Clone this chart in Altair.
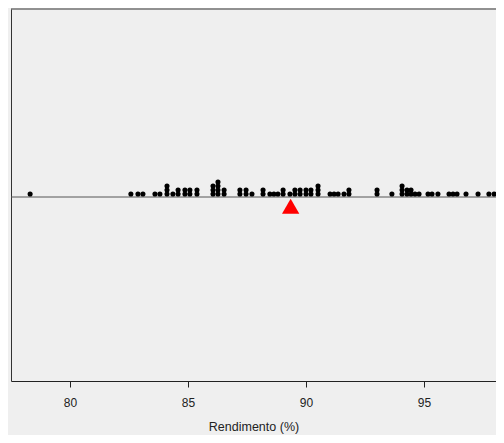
import altair as alt
import pandas as pd

# Dot positions (Rendimento %) and number of stacked dots at each position
values = [78.31, 82.58, 82.88, 83.09, 83.60, 83.81, 84.11, 84.36, 84.58, 84.87,
          85.08, 85.38, 86.06, 86.27, 86.53, 87.20, 87.46, 87.71, 88.18, 88.47,
          88.64, 88.81, 89.03, 89.32, 89.53, 89.75, 90.00, 90.21, 90.51, 91.02,
          91.19, 91.36, 91.61, 91.82, 93.01, 93.64, 94.07, 94.28, 94.45, 94.62,
          94.79, 95.17, 95.34, 95.59, 96.06, 96.23, 96.40, 96.78, 97.29, 97.75,
          97.97]
counts = [1, 1, 1, 1, 1, 1, 3, 1, 2, 2,
          2, 2, 3, 4, 2, 2, 2, 1, 2, 1,
          1, 1, 2, 1, 2, 2, 2, 2, 3, 1,
          1, 1, 1, 2, 2, 1, 3, 2, 2, 1,
          1, 1, 1, 1, 1, 1, 1, 1, 1, 1,
          1]
mean_marker = 89.35
x_ticks = [80, 85, 90, 95]

rows = []
for v, c in zip(values, counts):
    for k in range(1, c + 1):
        rows.append({"x": v, "level": k - 0.25})
dots = pd.DataFrame(rows)
mean_df = pd.DataFrame({"x": [mean_marker], "level": [-2.3]})

W, H = 485, 372
xscale = alt.Scale(domain=[77.5, 77.5 + W / 23.6], nice=False, zero=False)
yscale = alt.Scale(domain=[-46, 47], nice=False, zero=False)

xaxis = alt.Axis(values=x_ticks, title="Rendimento (%)", grid=False,
                 domainColor="#222222", tickColor="#222222", tickSize=6,
                 labelFont="Liberation Sans", labelFontSize=12, labelColor="#222222",
                 labelPadding=10, titleFont="Liberation Sans", titleFontSize=12.5,
                 titleFontWeight="normal", titleColor="#222222", titlePadding=12)
yaxis = alt.Axis(labels=False, ticks=False, grid=False, title=None,
                 domainColor="#333333")

pts = alt.Chart(dots).mark_circle(size=26, color="black", opacity=1).encode(
    x=alt.X("x:Q", scale=xscale, axis=xaxis),
    y=alt.Y("level:Q", scale=yscale, axis=yaxis),
)

base_line = alt.Chart(pd.DataFrame({"y": [0]})).mark_rule(color="#555555", strokeWidth=1).encode(
    y=alt.Y("y:Q", scale=yscale),
    x=alt.value(0), x2=alt.value(W),
)

top_border = alt.Chart(pd.DataFrame({"a": [0]})).mark_rule(color="#333333", strokeWidth=1).encode(
    y=alt.value(0), x=alt.value(0), x2=alt.value(W),
)

tri = alt.Chart(mean_df).mark_point(shape="triangle-up", size=300, filled=True,
                                    color="#ff0000", opacity=1).encode(
    x=alt.X("x:Q", scale=xscale),
    y=alt.Y("level:Q", scale=yscale),
)

chart = alt.layer(base_line, top_border, pts, tri).properties(
    width=W, height=H,
    autosize=alt.AutoSizeParams(type="none"),
    padding={"left": 3, "top": 1, "right": 0, "bottom": 54},
    background="#efefef",
).configure_view(stroke=None)

chart.save("out.html", embed_options={"renderer": "svg", "actions": False})
